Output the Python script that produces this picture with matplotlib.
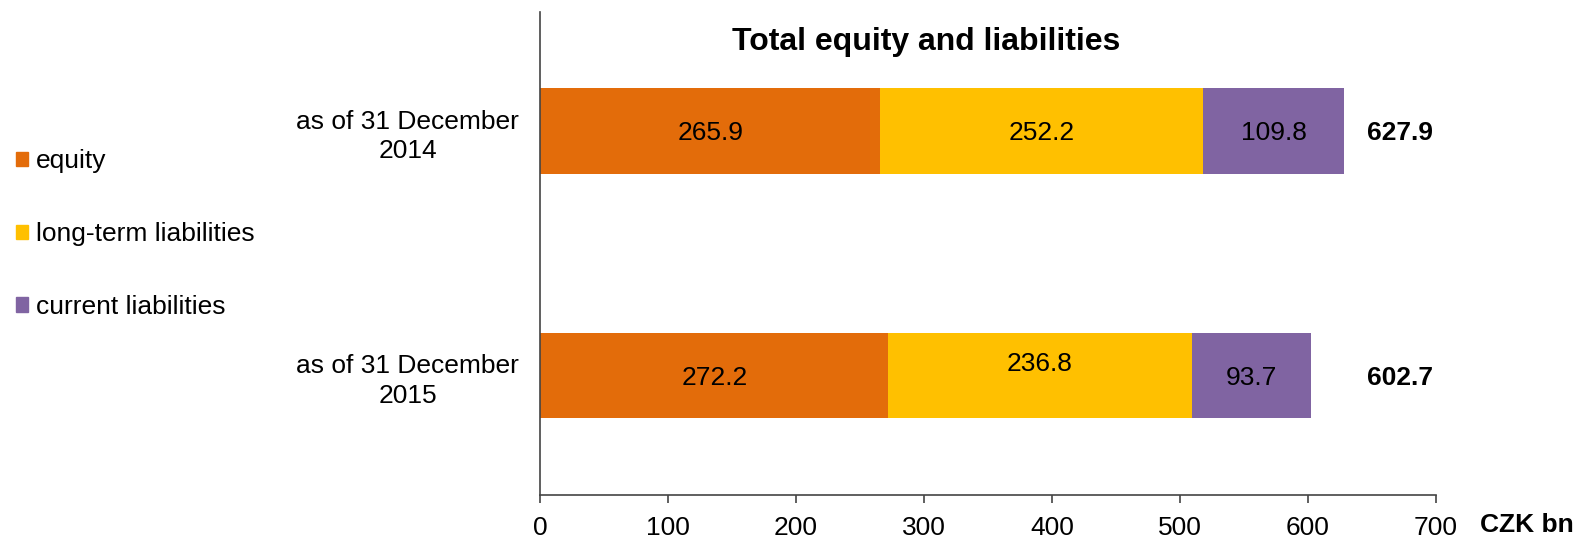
import matplotlib.pyplot as plt
from matplotlib.patches import Patch

plt.rcParams['font.family'] = ['Liberation Sans', 'DejaVu Sans']

# data (CZK bn)
periods = ['as of 31 December\n2014', 'as of 31 December\n2015']
equity = [265.9, 272.2]
long_term = [252.2, 236.8]
current = [109.8, 93.7]
totals = [627.9, 602.7]
series_names = ['equity', 'long-term liabilities', 'current liabilities']
colors = ['#E36C0A', '#FFC000', '#8064A2']

fig = plt.figure(figsize=(15.81, 5.46), dpi=100)
ax = fig.add_axes([0.3416, 0.0934, 0.5667, 0.885])

ypos = [1, 0]
h = 0.35
left = [0, 0]
for k, (vals, col) in enumerate(zip([equity, long_term, current], colors)):
    ax.barh(ypos, vals, height=h, left=left, color=col)
    for i, (y, l, v) in enumerate(zip(ypos, left, vals)):
        # the 236.8 label sits a little high in the original
        dy = 0.045 if (k == 1 and i == 1) else -0.01
        ax.text(l + v / 2, y + dy, f'{v:.1f}', ha='center', va='center', fontsize=19)
    left = [a + b for a, b in zip(left, vals)]

for y, t in zip(ypos, totals):
    ax.text(672, y - 0.01, f'{t:.1f}', ha='center', va='center', fontsize=19, weight='bold')

ax.set_xlim(0, 700)
ax.set_ylim(-0.49, 1.488)
ax.set_xticks(range(0, 701, 100))
ax.set_yticks(ypos)
ax.set_yticklabels(periods, multialignment='center', fontsize=19, linespacing=1.3)
ax.tick_params(axis='y', length=0, pad=15)
ax.tick_params(axis='x', labelsize=19, length=6, width=1.2, color='#444444', pad=9)
for s in ['top', 'right']:
    ax.spines[s].set_visible(False)
for s in ['left', 'bottom']:
    ax.spines[s].set_color('#444444')
    ax.spines[s].set_linewidth(1.2)

fig.text(0.586, 0.923, 'Total equity and liabilities', ha='center', va='center',
         fontsize=23, weight='bold')
fig.text(0.936, 0.038, 'CZK bn', ha='left', va='center', fontsize=19, weight='bold')

handles = [Patch(color=c) for c in colors]
fig.legend(handles, series_names, loc='upper left', bbox_to_anchor=(-0.005, 0.77),
           frameon=False, fontsize=19, handlelength=0.45, handleheight=0.45,
           handletextpad=0.3, labelspacing=1.85)

fig.savefig('out.png', dpi=100)
